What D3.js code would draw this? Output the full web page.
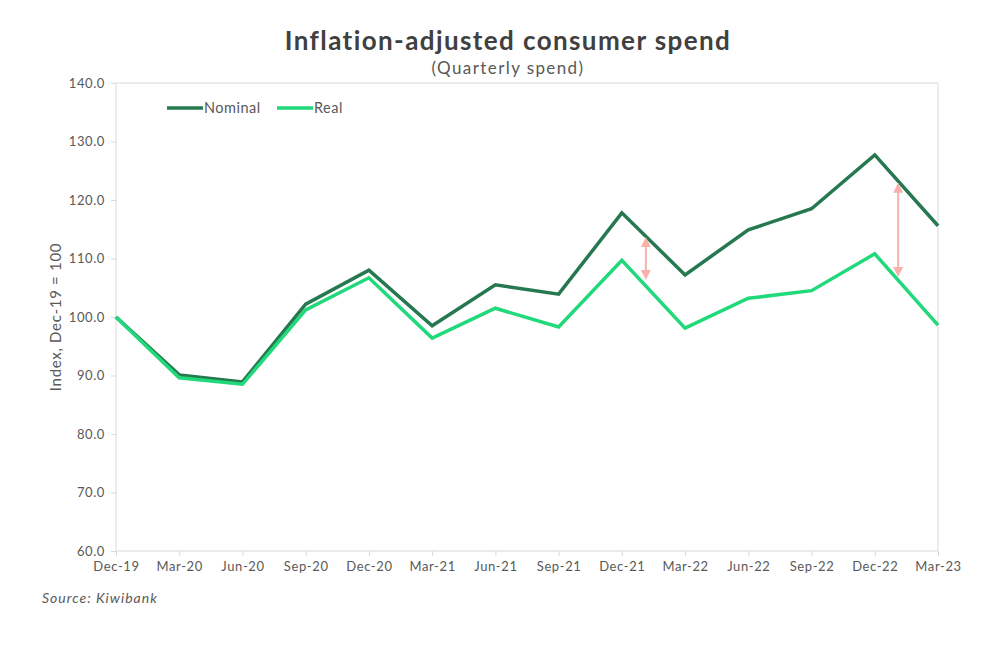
<!DOCTYPE html>
<meta charset="utf-8">
<style>
  body { margin: 0; background: #fff; }
  svg text { font-family: "Lato", "DejaVu Sans", sans-serif; fill: #595959; }
  .title { font-size: 26px; font-weight: bold; fill: #404040; letter-spacing: 1.4px; }
  .subtitle { font-size: 17px; letter-spacing: 1.4px; }
  .axis text { font-size: 13px; fill: #595959; letter-spacing: 0.6px; }
  .axis path, .axis line { stroke: #d9d9d9; }
  .line { fill: none; stroke-width: 3.5px; stroke-linejoin: miter; }
</style>
<svg width="1000" height="664"></svg>
<script src="https://cdn.jsdelivr.net/npm/d3@7"></script>
<script>
  const quarters = ["Dec-19", "Mar-20", "Jun-20", "Sep-20", "Dec-20", "Mar-21", "Jun-21",
    "Sep-21", "Dec-21", "Mar-22", "Jun-22", "Sep-22", "Dec-22", "Mar-23"];
  const nominal = [100.0, 90.1, 88.9, 102.2, 108.0, 98.5, 105.5, 103.9, 117.8, 107.2, 114.9, 118.5, 127.7, 115.6];
  const real = [100.0, 89.6, 88.5, 101.2, 106.7, 96.4, 101.5, 98.3, 109.7, 98.1, 103.2, 104.5, 110.8, 98.6];
  const yTicks = [60, 70, 80, 90, 100, 110, 120, 130, 140];
  // gap arrows: position in quarter index, from / to values
  const gaps = [
    {at: 8.38, from: 112.8, to: 107.2},
    {at: 12.37, from: 122.1, to: 107.7}
  ];

  const svg = d3.select("svg");
  const margin = {top: 83, right: 62, bottom: 113, left: 116};
  const width = 1000 - margin.left - margin.right,
    height = 664 - margin.top - margin.bottom;

  const x = d3.scaleLinear().domain([0, quarters.length - 1]).range([0, width]);
  const y = d3.scaleLinear().domain([60, 140]).range([height, 0]);

  svg.append("text").attr("class", "title")
    .attr("x", 508).attr("y", 50).attr("text-anchor", "middle")
    .text("Inflation-adjusted consumer spend");
  svg.append("text").attr("class", "subtitle")
    .attr("x", 508).attr("y", 74).attr("text-anchor", "middle")
    .text("(Quarterly spend)");

  const g = svg.append("g")
    .attr("transform", "translate(" + margin.left + "," + margin.top + ")");

  // plot border
  g.append("rect")
    .attr("width", width).attr("height", height)
    .attr("fill", "none").attr("stroke", "#d9d9d9");

  g.append("g").attr("class", "axis")
    .call(d3.axisLeft(y).tickValues(yTicks).tickFormat(d3.format(".1f")).tickSize(5).tickPadding(6))
    .call(s => s.select(".domain").remove());

  g.append("g").attr("class", "axis")
    .attr("transform", "translate(0," + height + ")")
    .call(d3.axisBottom(x).tickValues(d3.range(quarters.length))
      .tickFormat(i => quarters[i]).tickSize(5).tickPadding(6))
    .call(s => s.select(".domain").remove());

  svg.append("text")
    .attr("transform", "translate(61," + (margin.top + y(100)) + ") rotate(-90)")
    .attr("text-anchor", "middle")
    .style("font-size", "15px").style("letter-spacing", "0.7px")
    .text("Index, Dec-19 = 100");

  const line = d3.line().x((d, i) => x(i)).y(d => y(d));

  g.append("path").datum(nominal).attr("class", "line")
    .attr("stroke", "#25784f").attr("d", line);
  g.append("path").datum(real).attr("class", "line")
    .attr("stroke", "#20d97a").attr("d", line);

  // arrows
  const defs = svg.append("defs");
  defs.append("marker").attr("id", "head")
    .attr("viewBox", "0 0 10 10").attr("refX", 5).attr("refY", 5)
    .attr("markerWidth", 10).attr("markerHeight", 10)
    .attr("markerUnits", "userSpaceOnUse")
    .attr("orient", "auto-start-reverse")
    .append("path").attr("d", "M0,0 L10,5 L0,10 z").attr("fill", "#f6b2a8");

  g.selectAll(".gap").data(gaps).enter().append("line")
    .attr("class", "gap")
    .attr("x1", d => x(d.at)).attr("x2", d => x(d.at))
    .attr("y1", d => y(d.from)).attr("y2", d => y(d.to))
    .attr("stroke", "#f6b2a8").attr("stroke-width", 2)
    .attr("marker-start", "url(#head)").attr("marker-end", "url(#head)");

  // legend
  const legend = svg.append("g").attr("transform", "translate(167,108)");
  const items = [{name: "Nominal", color: "#25784f", dx: 0}, {name: "Real", color: "#20d97a", dx: 110}];
  items.forEach(it => {
    const lg = legend.append("g").attr("transform", "translate(" + it.dx + ",0)");
    lg.append("line").attr("x1", 0).attr("x2", 36).attr("stroke", it.color).attr("stroke-width", 3.5);
    lg.append("text").attr("x", 37).attr("dy", "0.35em")
      .style("font-size", "14.5px").style("letter-spacing", "0.5px").text(it.name);
  });

  svg.append("text")
    .attr("x", 42).attr("y", 603)
    .style("font-size", "14px").style("font-style", "italic").style("letter-spacing", "1px")
    .text("Source: Kiwibank");
</script>
